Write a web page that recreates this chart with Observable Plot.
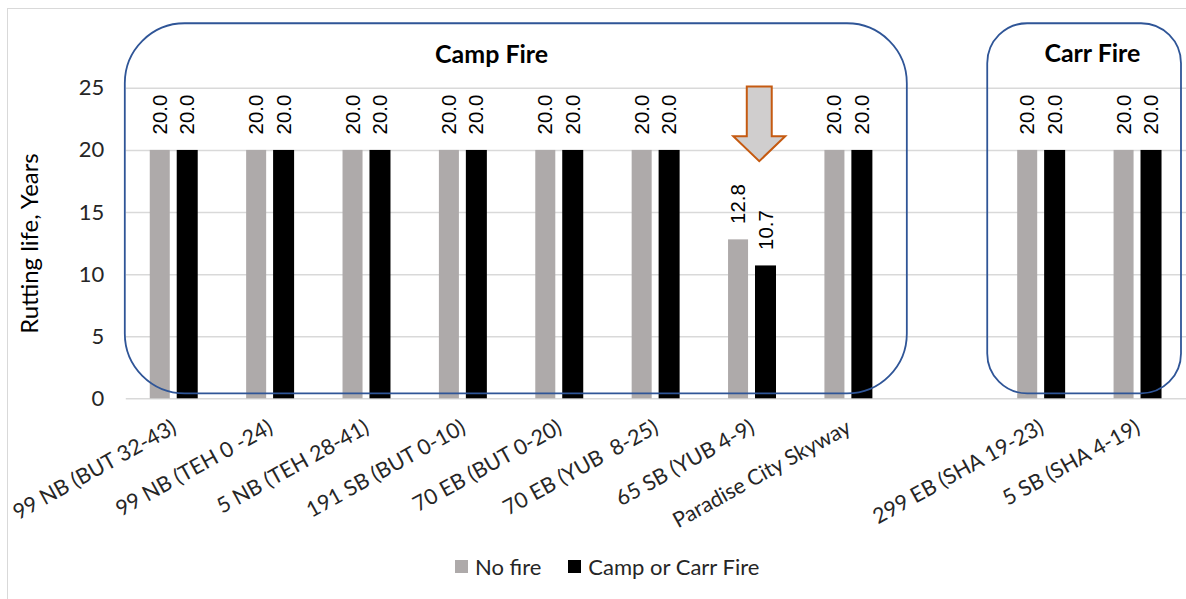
<!DOCTYPE html>
<html>
<head>
<meta charset="utf-8">
<script src="https://cdn.jsdelivr.net/npm/d3@7"></script>
<script src="https://cdn.jsdelivr.net/npm/@observablehq/plot@0.6"></script>
<style>
  html, body { margin: 0; padding: 0; background: #fff; overflow: hidden; }
  #frame { position: absolute; left: 7px; top: 8px; width: 1300px; height: 700px;
           border-left: 1.5px solid #d9d9d9; border-top: 1.5px solid #d9d9d9; }
  #chart { position: absolute; left: 0; top: 0; }
  #legend { position: absolute; left: 455px; top: 553px; font-family: Lato, sans-serif;
            font-size: 22px; color: #262626; display: flex; align-items: center; }
  #legend .sw { width: 13px; height: 13px; display: inline-block; margin-right: 7px; }
  #legend .item { display: flex; align-items: center; margin-right: 27px; }
</style>
</head>
<body>
<div id="frame"></div>
<div id="chart"></div>
<div id="legend"></div>
<script>
// Road segments, grouped by fire; an empty slot separates the two fires.
const campRoads = ["99 NB (BUT 32-43)", "99 NB (TEH 0 -24)", "5 NB (TEH 28-41)", "191 SB (BUT 0-10)",
                   "70 EB (BUT 0-20)", "70 EB (YUB  8-25)", "65 SB (YUB 4-9)", "Paradise City Skyway"];
const carrRoads = ["299 EB (SHA 19-23)", "5 SB (SHA 4-19)"];
const gapSlot = " ";
const roads = [...campRoads, ...carrRoads];

// Rutting life (years)
const noFire = [20, 20, 20, 20, 20, 20, 12.8, 20, 20, 20];
const withFire = [20, 20, 20, 20, 20, 20, 10.7, 20, 20, 20];

const seriesNames = ["No fire", "Camp or Carr Fire"];
const seriesColors = ["#aeaaaa", "#000000"];
const yTicks = [0, 5, 10, 15, 20, 25];
const groupTitles = ["Camp Fire", "Carr Fire"];

const xDomain = [...campRoads, gapSlot, ...carrRoads];
const rows = roads.map((road, i) => ({road, noFire: noFire[i], withFire: withFire[i]}));

const blue = "#2f5597";

// Rounded group outlines and the highlight arrow, placed with the chart's scales
function annotations(index, {x, y}) {
  const step = x.bandwidth ? x.bandwidth() : x.step();
  const g = d3.create("svg:g");
  const campLeft = x(campRoads[0]) - 1;
  const campRight = x(campRoads[campRoads.length - 1]) + step + 10;
  const carrLeft = x(carrRoads[0]) - 6;
  const carrRight = x(carrRoads[carrRoads.length - 1]) + step - 5;
  const top = y(30.2), bottom = y(0.4);
  g.append("rect").attr("x", campLeft).attr("y", top)
    .attr("width", campRight - campLeft).attr("height", bottom - top)
    .attr("rx", 60).attr("ry", 60)
    .attr("fill", "none").attr("stroke", blue).attr("stroke-width", 1.8);
  g.append("rect").attr("x", carrLeft).attr("y", top)
    .attr("width", carrRight - carrLeft).attr("height", bottom - top)
    .attr("rx", 40).attr("ry", 40)
    .attr("fill", "none").attr("stroke", blue).attr("stroke-width", 1.8);
  // down arrow over the 65 SB pair
  const cx = x(campRoads[6]) + step / 2 + 7;
  const yTop = y(25.1), yHead = y(21.1), yTip = y(19.1);
  const bw = 12.5, hw = 26;
  g.append("path")
    .attr("d", `M${cx - bw},${yTop}H${cx + bw}V${yHead}H${cx + hw}L${cx},${yTip}L${cx - hw},${yHead}H${cx - bw}Z`)
    .attr("fill", "#d0cece").attr("stroke", "#c55a11").attr("stroke-width", 2)
    .attr("stroke-linejoin", "miter");
  return g.node();
}

const chart = Plot.plot({
  width: 1188,
  height: 530,
  marginLeft: 126,
  marginRight: 0,
  marginTop: 88,
  marginBottom: 131,
  style: {fontFamily: "Lato, sans-serif", fontSize: "22px", color: "#262626", background: "transparent", overflow: "visible"},
  x: {type: "band", domain: xDomain, padding: 0, round: false, label: null},
  y: {domain: [0, 25], label: null},
  marks: [
    Plot.ruleY(yTicks, {stroke: "#d9d9d9", strokeWidth: 1.5}),
    Plot.barY(rows, {x: "road", y: "noFire", fill: seriesColors[0], insetLeft: 24, insetRight: 52.5}),
    Plot.barY(rows, {x: "road", y: "withFire", fill: seriesColors[1], insetLeft: 51, insetRight: 24.5}),
    Plot.text(rows, {x: "road", y: "noFire", text: d => d.noFire.toFixed(1), rotate: -90, textAnchor: "start",
      dx: -14.3, dy: -16, fontFamily: "Liberation Sans, Arial, sans-serif", fontSize: 20.5, fill: "#000"}),
    Plot.text(rows, {x: "road", y: "withFire", text: d => d.withFire.toFixed(1), rotate: -90, textAnchor: "start",
      dx: 13.2, dy: -16, fontFamily: "Liberation Sans, Arial, sans-serif", fontSize: 20.5, fill: "#000"}),
    annotations,
    Plot.text([groupTitles[0]], {x: [campRoads[3]], frameAnchor: "top", dx: 28, dy: -43,
      fontWeight: "bold", fontSize: 25, fill: "#000"}),
    Plot.text([groupTitles[1]], {x: [carrRoads[1]], frameAnchor: "top", dx: -46, dy: -44,
      fontWeight: "bold", fontSize: 25, fill: "#000"}),
    Plot.axisY(yTicks, {tickSize: 0, tickPadding: 22, label: null, fontSize: 22}),
    Plot.axisX({tickSize: 0, tickRotate: -29, tickPadding: 27, label: null, fontSize: 21.5,
      tickFormat: d => d}),
    Plot.text(["Rutting life, Years"], {frameAnchor: "left", textAnchor: "middle", rotate: -90, dx: -96,
      fontSize: 24, fill: "#000"})
  ]
});
document.getElementById("chart").append(chart);

// Legend below the chart
const legend = d3.select("#legend");
seriesNames.forEach((name, i) => {
  const item = legend.append("div").attr("class", "item");
  item.append("span").attr("class", "sw").style("background", seriesColors[i]);
  item.append("span").text(name);
});
</script>
</body>
</html>
